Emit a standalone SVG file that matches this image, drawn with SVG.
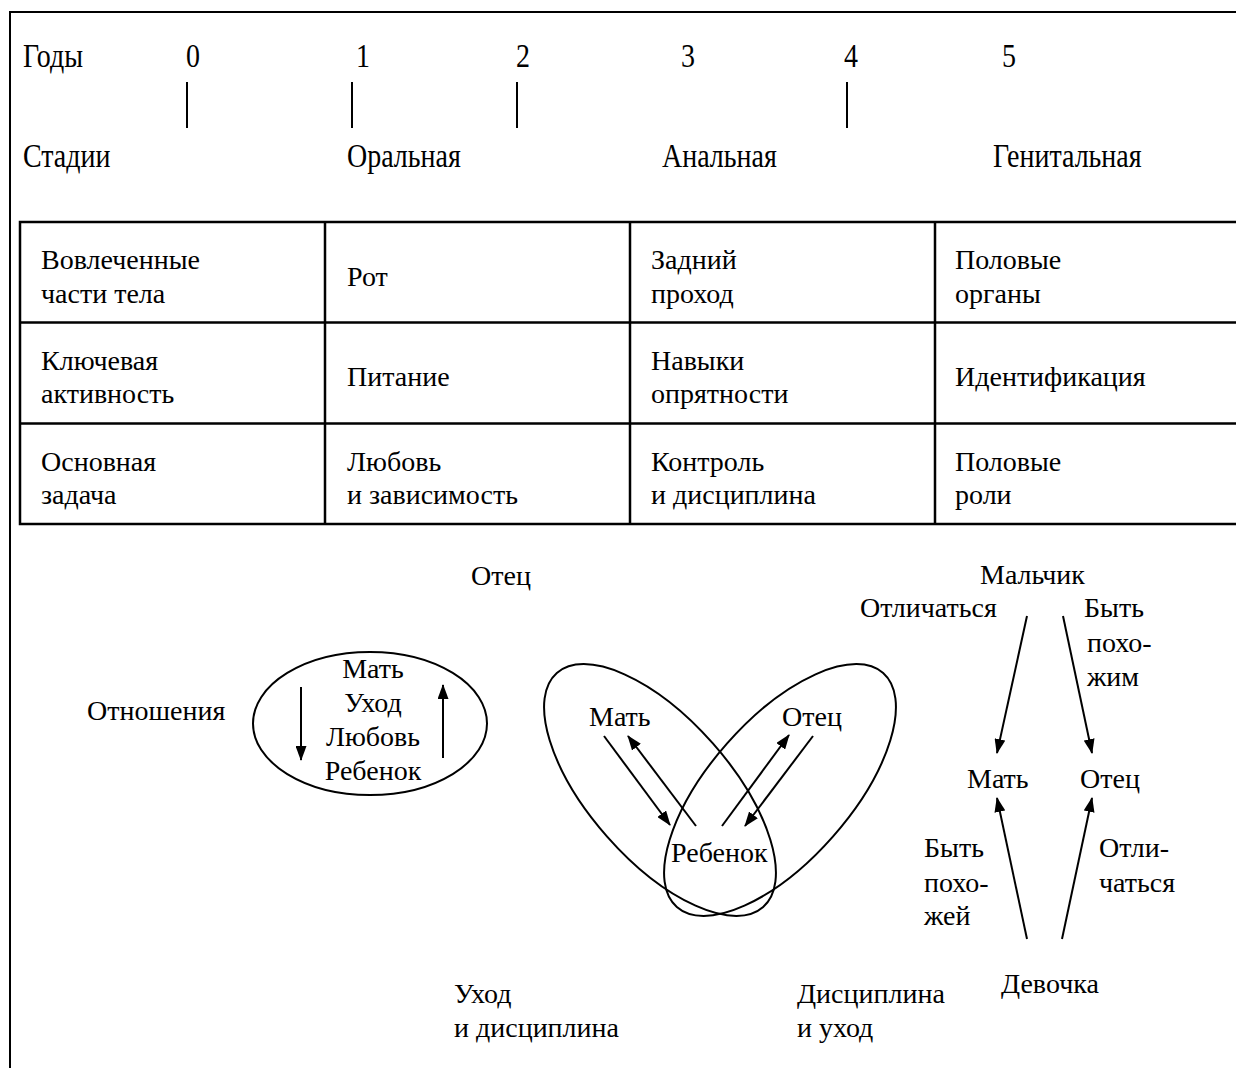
<svg xmlns="http://www.w3.org/2000/svg" width="1236" height="1068" viewBox="0 0 1236 1068">
<style>
text{font-family:"Liberation Serif","Times New Roman",serif;font-size:28px;fill:#000}
.mid{text-anchor:middle}
.ln{stroke:#000;stroke-width:2;fill:none}
.tb{stroke:#000;stroke-width:2.5;fill:none}
.arr{stroke:#000;stroke-width:2;fill:none;marker-end:url(#ah)}
</style>
<defs>
<marker id="ah" markerUnits="userSpaceOnUse" markerWidth="15" markerHeight="11" viewBox="0 0 15 11" refX="14" refY="5.5" orient="auto">
<path d="M0,0 L15,5.5 L0,11 z" fill="#000"/>
</marker>
</defs>
<rect width="1236" height="1068" fill="#fff"/>
<g id="frame">
<path class="ln" d="M10,1068 V12 H1236" stroke-width="1.5"/>
</g>
<g id="timeline">
<text transform="translate(23,67) scale(1,1.2)">Годы</text>
<text transform="translate(186,67) scale(1,1.2)">0</text>
<text transform="translate(356,67) scale(1,1.2)">1</text>
<text transform="translate(516,67) scale(1,1.2)">2</text>
<text transform="translate(681,67) scale(1,1.2)">3</text>
<text transform="translate(844,67) scale(1,1.2)">4</text>
<text transform="translate(1002,67) scale(1,1.2)">5</text>
<path class="ln" d="M187,82 V128 M352,82 V128 M517,82 V128 M847,82 V128"/>
<text transform="translate(23,167) scale(1,1.2)">Стадии</text>
<text transform="translate(347,167) scale(1,1.2)">Оральная</text>
<text transform="translate(662,167) scale(1,1.2)">Анальная</text>
<text transform="translate(993,167) scale(1,1.2)">Генитальная</text>
</g>
<g id="table">
<rect class="tb" x="20" y="222" width="1230" height="302"/>
<path class="tb" d="M20,322.5 H1240 M20,423.5 H1240 M325,222 V524 M630,222 V524 M935,222 V524"/>
<text x="41" y="269">Вовлеченные</text>
<text x="41" y="303">части тела</text>
<text x="347" y="286">Рот</text>
<text x="651" y="269">Задний</text>
<text x="651" y="303">проход</text>
<text x="955" y="269">Половые</text>
<text x="955" y="303">органы</text>
<text x="41" y="370">Ключевая</text>
<text x="41" y="403">активность</text>
<text x="347" y="386">Питание</text>
<text x="651" y="370">Навыки</text>
<text x="651" y="403">опрятности</text>
<text x="955" y="386">Идентификация</text>
<text x="41" y="471">Основная</text>
<text x="41" y="504">задача</text>
<text x="347" y="471">Любовь</text>
<text x="347" y="504">и зависимость</text>
<text x="651" y="471">Контроль</text>
<text x="651" y="504">и дисциплина</text>
<text x="955" y="471">Половые</text>
<text x="955" y="504">роли</text>
</g>
<g id="relations-label">
<text x="87" y="720">Отношения</text>
</g>
<g id="oral-oval">
<ellipse class="ln" cx="370" cy="723.5" rx="117" ry="71.5"/>
<text class="mid" x="373" y="678">Мать</text>
<text class="mid" x="373" y="712">Уход</text>
<text class="mid" x="373" y="746">Любовь</text>
<text class="mid" x="373" y="780">Ребенок</text>
</g>
<g id="anal-venn">
<ellipse class="ln" cx="660" cy="790" rx="156" ry="70.5" transform="rotate(48.6 660 790)"/>
<ellipse class="ln" cx="780" cy="790" rx="156" ry="70.5" transform="rotate(-48.6 780 790)"/>
<text x="471" y="585">Отец</text>
<text x="589" y="726">Мать</text>
<text x="782" y="726">Отец</text>
<text x="671" y="862">Ребенок</text>
<text x="454" y="1003">Уход</text>
<text x="454" y="1037">и дисциплина</text>
<text x="797" y="1003">Дисциплина</text>
<text x="797" y="1037">и уход</text>
</g>
<g id="genital">
<text x="980" y="584">Мальчик</text>
<text x="860" y="617">Отличаться</text>
<text x="1084" y="617">Быть</text>
<text x="1087" y="652">похо-</text>
<text x="1087" y="686">жим</text>
<text x="967" y="788">Мать</text>
<text x="1080" y="788">Отец</text>
<text x="924" y="857">Быть</text>
<text x="924" y="892">похо-</text>
<text x="924" y="925">жей</text>
<text x="1099" y="857">Отли-</text>
<text x="1099" y="892">чаться</text>
<text x="1001" y="993">Девочка</text>
</g>
<g id="connectors">
<line class="arr" x1="301" y1="687" x2="301" y2="760"/>
<line class="arr" x1="443" y1="758" x2="443" y2="685"/>
<line class="arr" x1="604" y1="736" x2="670" y2="825"/>
<line class="arr" x1="696" y1="826" x2="628" y2="736"/>
<line class="arr" x1="722" y1="826" x2="789" y2="735"/>
<line class="arr" x1="813" y1="736" x2="745" y2="826"/>
<line class="arr" x1="1027" y1="616" x2="997" y2="753"/>
<line class="arr" x1="1063" y1="616" x2="1092" y2="753"/>
<line class="arr" x1="1027" y1="939" x2="997" y2="798"/>
<line class="arr" x1="1062" y1="939" x2="1092" y2="798"/>
</g>
</svg>
